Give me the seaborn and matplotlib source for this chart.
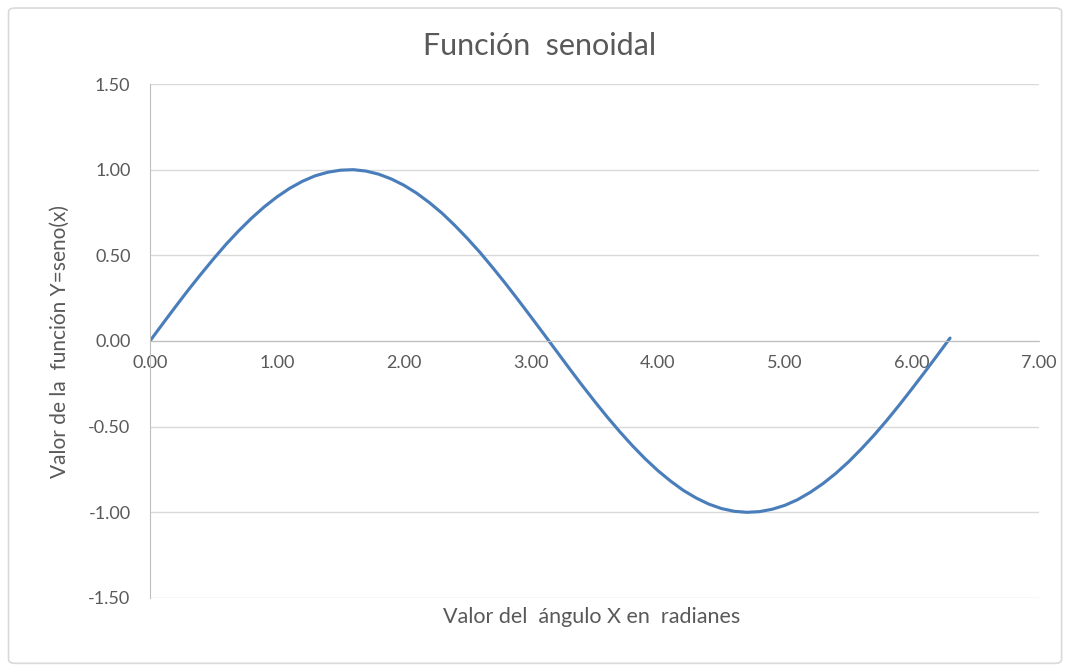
import matplotlib
matplotlib.use("Agg")
import matplotlib.pyplot as plt
import pandas as pd
import seaborn as sns
from matplotlib.patches import FancyBboxPatch

# ── Data (step 0.1 rad) ───────────────────────────────────────────────────────
x_rad = [0.0, 0.1, 0.2, 0.3, 0.4, 0.5, 0.6, 0.7, 0.8, 0.9,
         1.0, 1.1, 1.2, 1.3, 1.4, 1.5, 1.6, 1.7, 1.8, 1.9,
         2.0, 2.1, 2.2, 2.3, 2.4, 2.5, 2.6, 2.7, 2.8, 2.9,
         3.0, 3.1, 3.2, 3.3, 3.4, 3.5, 3.6, 3.7, 3.8, 3.9,
         4.0, 4.1, 4.2, 4.3, 4.4, 4.5, 4.6, 4.7, 4.8, 4.9,
         5.0, 5.1, 5.2, 5.3, 5.4, 5.5, 5.6, 5.7, 5.8, 5.9,
         6.0, 6.1, 6.2, 6.3]
y_seno = [0.000, 0.100, 0.199, 0.296, 0.389, 0.479, 0.565, 0.644, 0.717, 0.783,
          0.841, 0.891, 0.932, 0.964, 0.985, 0.997, 1.000, 0.992, 0.974, 0.946,
          0.909, 0.863, 0.808, 0.746, 0.675, 0.598, 0.516, 0.427, 0.335, 0.239,
          0.141, 0.042, -0.058, -0.158, -0.256, -0.351, -0.443, -0.530, -0.612, -0.688,
          -0.757, -0.818, -0.872, -0.916, -0.952, -0.978, -0.994, -1.000, -0.996, -0.982,
          -0.959, -0.926, -0.883, -0.832, -0.773, -0.706, -0.631, -0.551, -0.465, -0.374,
          -0.279, -0.182, -0.083, 0.017]

x_ticks = [0, 1, 2, 3, 4, 5, 6, 7]
y_ticks = [-1.5, -1.0, -0.5, 0.0, 0.5, 1.0, 1.5]

titulo = "Función  senoidal"
etiqueta_x = "Valor del  ángulo X en  radianes"
etiqueta_y = "Valor de la  función Y=seno(x)"

df = pd.DataFrame({"x": x_rad, "y": y_seno})

# ── Style ─────────────────────────────────────────────────────────────────────
sns.set_style("white")
plt.rcParams["font.family"] = ["Lato", "DejaVu Sans"]

TEXT = "#595959"
GRID = "#d9d9d9"
AXIS = "#bfbfbf"
LINE = "#4a7ebb"

fig = plt.figure(figsize=(10.68, 6.70), dpi=100)
ax = fig.add_axes([0.1404, 0.1075, 0.8324, 0.7671])

sns.lineplot(data=df, x="x", y="y", ax=ax, color=LINE, linewidth=2.25)

ax.set_xlim(0, 7)
ax.set_ylim(-1.5, 1.5)
ax.set_xticks(x_ticks)
ax.set_yticks(y_ticks)
ax.set_xticklabels([f"{v:.2f}" for v in x_ticks])
ax.set_yticklabels([f"{v:.2f}" for v in y_ticks])

# horizontal gridlines only
ax.yaxis.grid(True, color=GRID, linewidth=1.0)
ax.xaxis.grid(False)
ax.set_axisbelow(True)

# x axis crosses at y = 0, Excel-style
for s in ["top", "right"]:
    ax.spines[s].set_visible(False)
ax.spines["bottom"].set_position(("data", 0))
ax.spines["bottom"].set_color(AXIS)
ax.spines["left"].set_color(AXIS)
ax.tick_params(axis="x", direction="out", length=5, color=AXIS,
               labelsize=13, labelcolor=TEXT, pad=5)
ax.tick_params(axis="y", direction="out", length=6, color=AXIS,
               labelsize=13, labelcolor=TEXT, pad=8)

ax.set_xlabel("")
ax.set_ylabel("")
fig.text(0.554, 0.079, etiqueta_x, ha="center", va="center",
         fontsize=15.5, color=TEXT)
fig.text(0.056, 0.49, etiqueta_y, ha="center", va="center",
         rotation=90, fontsize=15, color=TEXT)
fig.text(0.505, 0.932, titulo, ha="center", va="center",
         fontsize=22, color=TEXT)

# chart border
border = FancyBboxPatch((0.008, 0.010), 0.986, 0.978,
                        boxstyle="round,pad=0,rounding_size=0.006",
                        transform=fig.transFigure, fill=False,
                        edgecolor=GRID, linewidth=1.2)
fig.patches.append(border)

fig.savefig("out.png", dpi=100)
plt.close(fig)
